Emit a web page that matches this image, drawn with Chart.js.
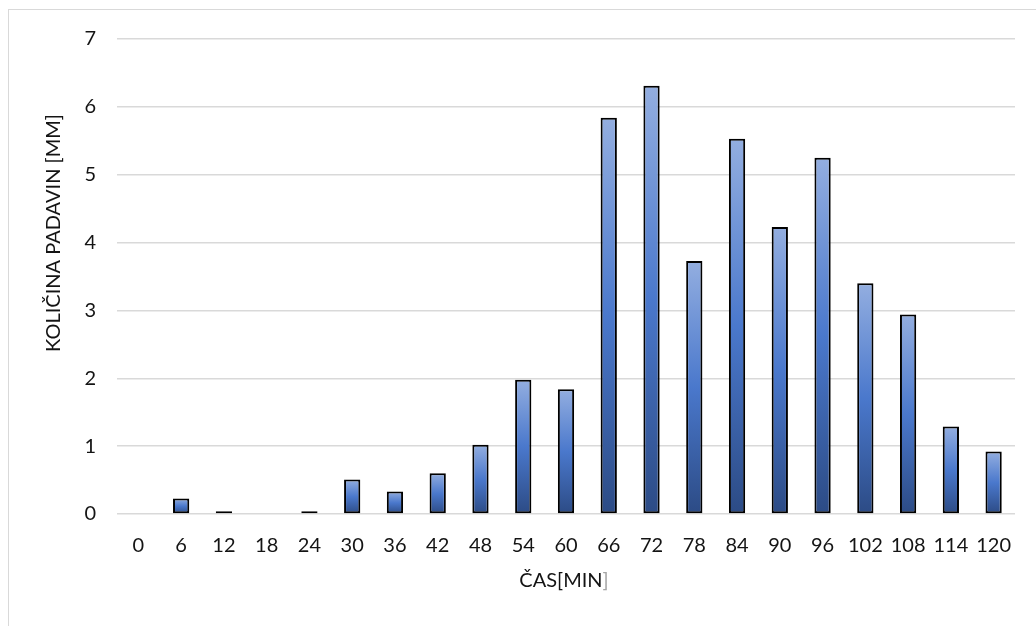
<!DOCTYPE html>
<html>
<head>
<meta charset="utf-8">
<script src="https://cdn.jsdelivr.net/npm/chart.js@4"></script>
<style>
  html, body { margin: 0; padding: 0; background: #fff; }
  #wrap { position: relative; width: 1036px; height: 626px; overflow: hidden; }
  #frame { position: absolute; left: 8px; top: 9px; width: 1100px; height: 700px;
           border-top: 1.5px solid #d9d9d9; border-left: 1.5px solid #d9d9d9; box-sizing: border-box; }
  canvas { position: absolute; left: 0; top: 0; }
</style>
</head>
<body>
<div id="wrap">
  <div id="frame"></div>
  <canvas id="c" width="1036" height="626"></canvas>
</div>
<script>
// Time steps in minutes
const minutes = ['0','6','12','18','24','30','36','42','48','54','60','66','72','78','84','90','96','102','108','114','120'];
// Precipitation per interval in mm
const rainfall = [0, 0.23, 0.04, 0, 0.04, 0.51, 0.33, 0.6, 1.02, 1.98, 1.84, 5.84, 6.31, 3.73, 5.53, 4.23, 5.25, 3.4, 2.94, 1.29, 0.92];
const yTicks = [0, 1, 2, 3, 4, 5, 6, 7];

const FONT = 'Lato, "Open Sans", sans-serif';
const TEXT = '#141414';

// Each bar gets its own vertical gradient: light top, bright middle, dark base
function barGradient(ctx) {
  const chart = ctx.chart;
  const y = chart.scales.y;
  if (!y || ctx.type !== 'data') return '#4472c4';
  const v = ctx.raw;
  const top = y.getPixelForValue(v);
  const base = y.getPixelForValue(0);
  if (!(base - top > 0.5)) return '#4472c4';
  const g = chart.ctx.createLinearGradient(0, top, 0, base);
  g.addColorStop(0, '#93aee0');
  g.addColorStop(0.5, '#4a78cc');
  g.addColorStop(1, '#2c4b85');
  return g;
}

// Axis titles drawn on the canvas
const axisTitles = {
  id: 'axisTitles',
  afterDraw(chart) {
    const c = chart.ctx;
    c.save();
    c.font = '20px ' + FONT;
    c.textBaseline = 'middle';
    // x title, closing bracket in lighter grey
    const a = 'ČAS[MIN', b = ']';
    const wa = c.measureText(a).width, wb = c.measureText(b).width;
    const cx = 564, cy = 581;
    let x0 = cx - (wa + wb) / 2;
    c.textAlign = 'left';
    c.fillStyle = TEXT;
    c.fillText(a, x0, cy);
    c.fillStyle = '#a6a6a6';
    c.fillText(b, x0 + wa, cy);
    // y title
    c.translate(54, 233);
    c.rotate(-Math.PI / 2);
    c.textAlign = 'center';
    c.fillStyle = TEXT;
    c.fillText('KOLIČINA PADAVIN [MM]', 0, 0);
    c.restore();
  }
};

new Chart(document.getElementById('c'), {
  type: 'bar',
  data: {
    labels: minutes,
    datasets: [{
      data: rainfall,
      backgroundColor: barGradient,
      borderColor: '#000',
      borderWidth: 2,
      borderSkipped: false,
      barPercentage: 0.38,
      categoryPercentage: 1
    }]
  },
  options: {
    responsive: false,
    animation: false,
    layout: { padding: { top: 39, right: 21, left: 0, bottom: 0 } },
    plugins: { legend: { display: false }, tooltip: { enabled: false } },
    scales: {
      x: {
        grid: { display: false, drawTicks: false },
        border: { display: false },
        ticks: { color: TEXT, font: { family: FONT, size: 20 }, padding: 20, maxRotation: 0, autoSkip: false },
        afterFit(s) { s.height = 112; }
      },
      y: {
        min: 0, max: 7,
        afterBuildTicks(s) { s.ticks = yTicks.map(v => ({ value: v })); },
        grid: { color: '#d9d9d9', lineWidth: 1.5, drawTicks: false },
        border: { display: false },
        ticks: { color: TEXT, font: { family: FONT, size: 20 }, padding: 21 },
        afterFit(s) { s.width = 117; }
      }
    }
  },
  plugins: [axisTitles]
});
</script>
</body>
</html>
